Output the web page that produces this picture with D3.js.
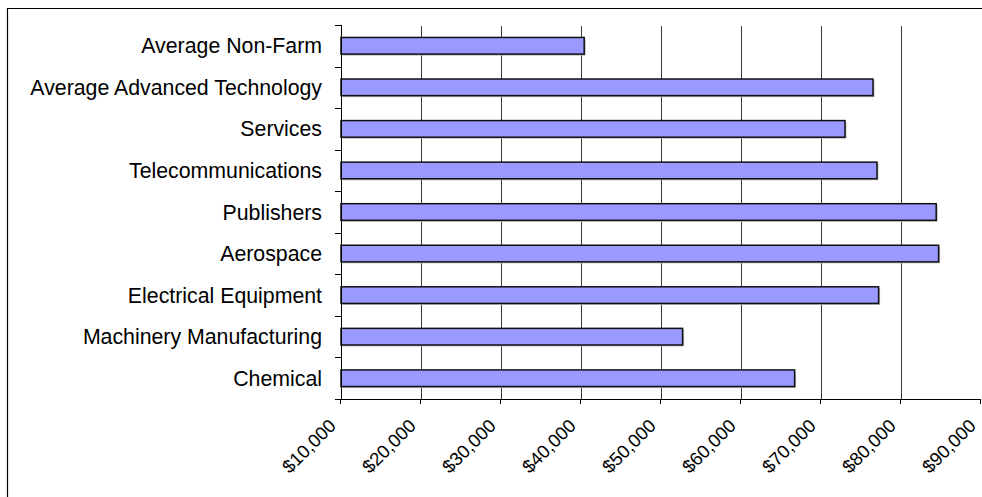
<!DOCTYPE html>
<html>
<head>
<meta charset="utf-8">
<script src="https://cdn.jsdelivr.net/npm/d3@7"></script>
<style>
  html, body { margin: 0; padding: 0; background: #fff; }
  svg { display: block; }
  text { font-family: "Liberation Sans", Arial, sans-serif; fill: #000; }
</style>
</head>
<body>
<svg id="chart" width="982" height="497"></svg>
<script>
// Average wage by industry (top to bottom)
const categories = [
  "Average Non-Farm",
  "Average Advanced Technology",
  "Services",
  "Telecommunications",
  "Publishers",
  "Aerospace",
  "Electrical Equipment",
  "Machinery Manufacturing",
  "Chemical"
];
const wages = [40400, 76500, 73000, 77000, 84400, 84700, 77200, 52700, 66700];
const xTicks = [10000, 20000, 30000, 40000, 50000, 60000, 70000, 80000, 90000];
const gridTicks = [20000, 30000, 40000, 50000, 60000, 70000, 80000];

const svg = d3.select("#chart");
const W = 982, H = 497;
const plot = { left: 341, right: 981, top: 25, bottom: 399 };

// outer frame (only top and left edges fall inside the canvas)
svg.append("path")
  .attr("d", `M7.5,${H} V8.5 H${W}`)
  .attr("fill", "none").attr("stroke", "#000").attr("stroke-width", 1.2);

const x = d3.scaleLinear().domain([10000, 90000]).range([plot.left, plot.right]);
const y = d3.scaleBand().domain(categories).range([plot.top, plot.bottom])
  .paddingInner(0.6).paddingOuter(0.3);

// vertical gridlines
svg.append("g").selectAll("line").data(gridTicks).join("line")
  .attr("x1", d => Math.round(x(d)) + 0.5).attr("x2", d => Math.round(x(d)) + 0.5)
  .attr("y1", plot.top + 1).attr("y2", plot.bottom)
  .attr("stroke", "#3a3a3a").attr("stroke-width", 1);

// bars with a faint drop shadow
const rows = categories.map((c, i) => ({ c, v: wages[i] }));
svg.append("g").selectAll("rect").data(rows).join("rect")
  .attr("x", x(10000) + 1.5)
  .attr("y", d => y(d.c) + 1.5)
  .attr("width", d => x(d.v) - x(10000))
  .attr("height", y.bandwidth())
  .attr("fill", "#b8b8b8");
svg.append("g").selectAll("rect").data(rows).join("rect")
  .attr("x", x(10000))
  .attr("y", d => y(d.c))
  .attr("width", d => x(d.v) - x(10000))
  .attr("height", y.bandwidth())
  .attr("fill", "#9999ff")
  .attr("stroke", "#111").attr("stroke-width", 1.5);

// category axis
const step = y.step();
const yAxis = svg.append("g");
yAxis.append("line")
  .attr("x1", plot.left + 0.5).attr("x2", plot.left + 0.5)
  .attr("y1", plot.top).attr("y2", plot.bottom)
  .attr("stroke", "#000");
const boundary = categories.map((c, i) => plot.top + i * step).concat([plot.bottom]);
yAxis.selectAll("line.tk").data(boundary).join("line").attr("class", "tk")
  .attr("x1", plot.left - 6).attr("x2", plot.left)
  .attr("y1", d => Math.round(d) + 0.5).attr("y2", d => Math.round(d) + 0.5)
  .attr("stroke", "#000");
yAxis.selectAll("text").data(categories).join("text")
  .attr("x", plot.left - 19)
  .attr("y", d => y(d) + y.bandwidth() / 2 + 7.5)
  .attr("text-anchor", "end")
  .attr("font-size", 21.3)
  .text(d => d);

// value axis
const fmt = d3.format("$,");
const xAxis = svg.append("g");
xAxis.append("line")
  .attr("x1", plot.left - 6).attr("x2", plot.right)
  .attr("y1", plot.bottom + 0.5).attr("y2", plot.bottom + 0.5)
  .attr("stroke", "#000");
xAxis.selectAll("line.tk").data(xTicks).join("line").attr("class", "tk")
  .attr("x1", d => Math.round(x(d)) - 0.5).attr("x2", d => Math.round(x(d)) - 0.5)
  .attr("y1", plot.bottom).attr("y2", plot.bottom + 5)
  .attr("stroke", "#000");
xAxis.selectAll("text").data(xTicks).join("text")
  .attr("transform", d => `translate(${x(d) - 4},${plot.bottom + 28}) rotate(-45)`)
  .attr("text-anchor", "end")
  .attr("font-size", 18.5)
  .text(d => fmt(d));
</script>
</body>
</html>
